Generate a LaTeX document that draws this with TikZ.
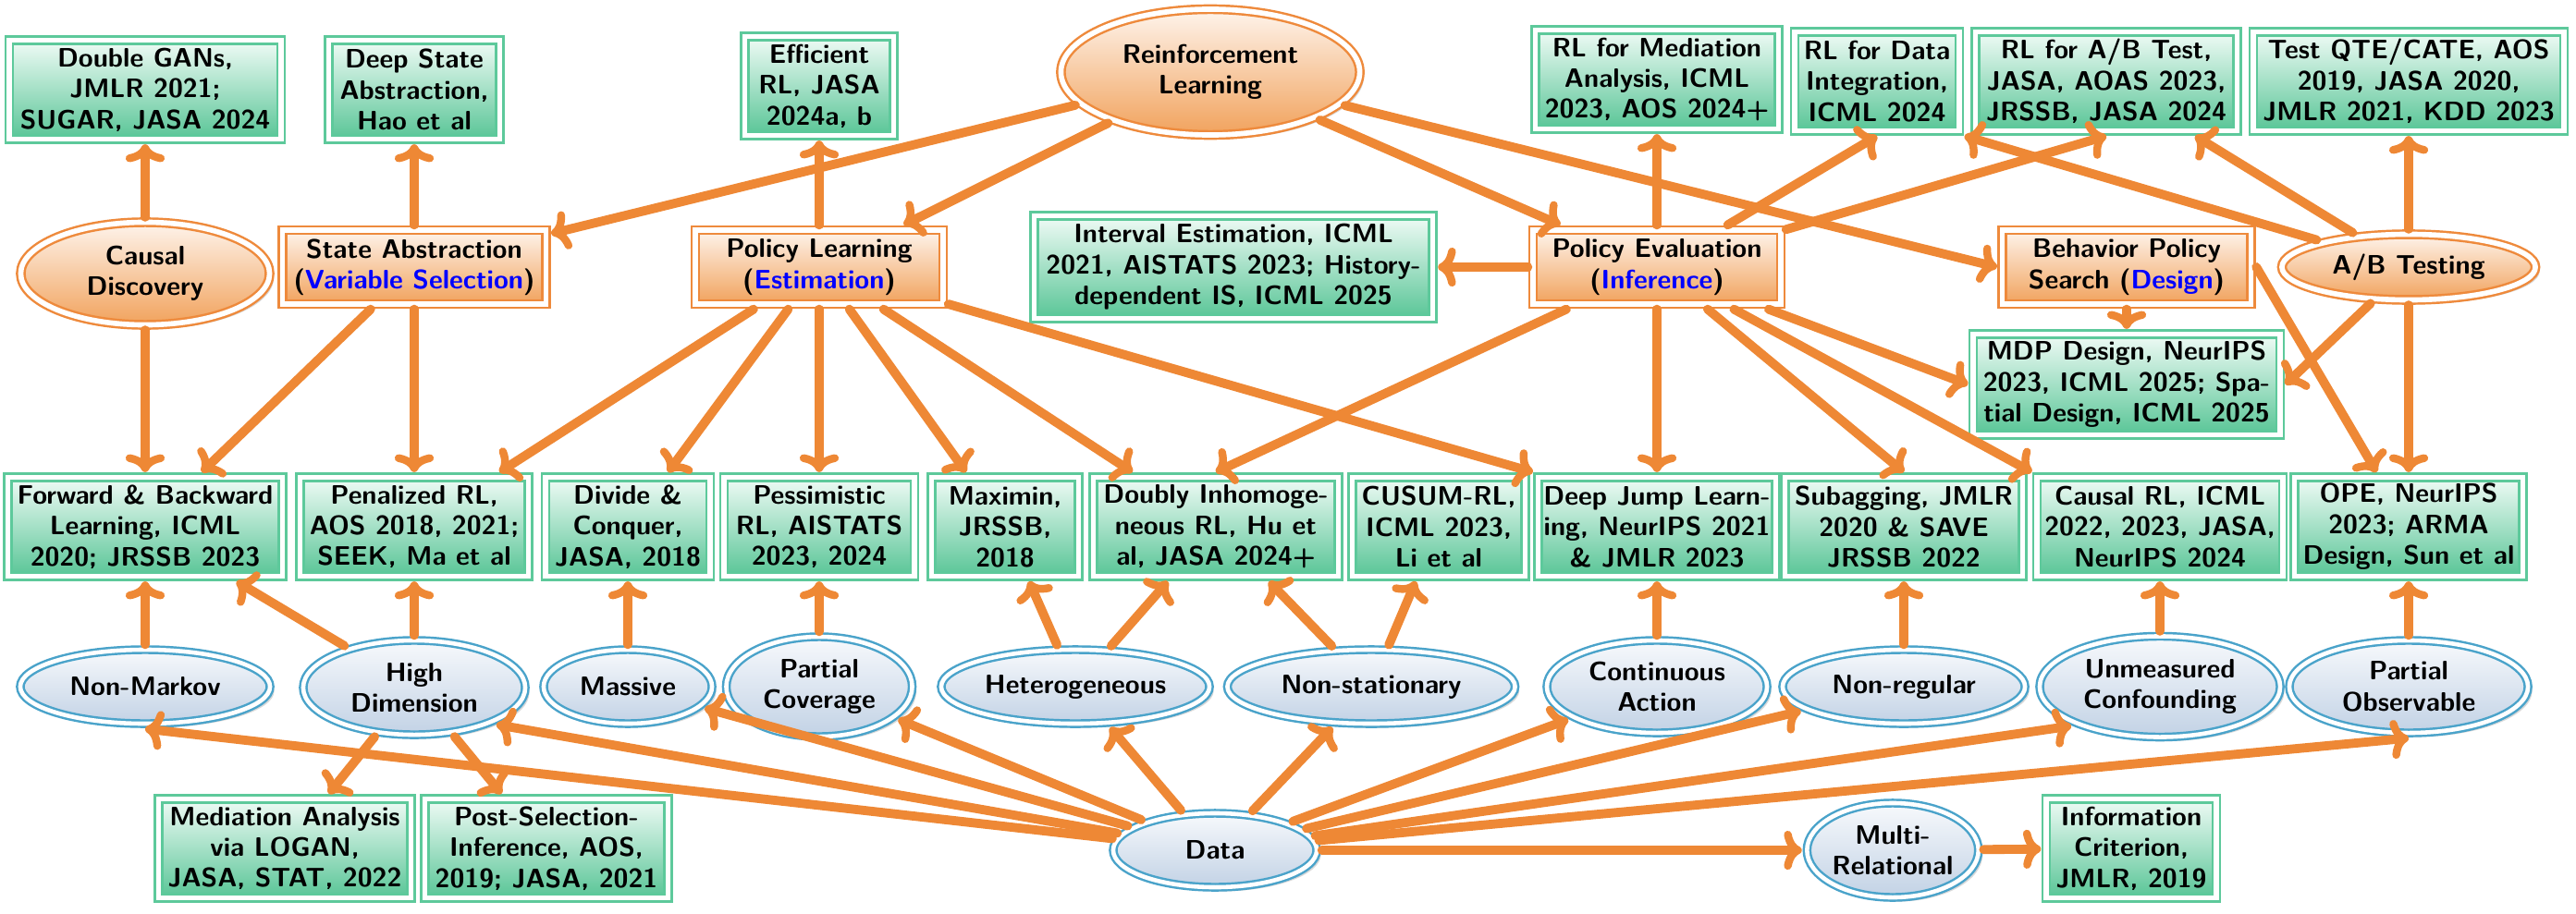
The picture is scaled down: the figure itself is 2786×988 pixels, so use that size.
\documentclass[tikz,border=0pt]{standalone}
\usepackage{xcolor}
\usetikzlibrary{shapes.geometric,arrows.meta,shadows}

\definecolor{arrorange}{HTML}{EE8835}
\definecolor{gline}{HTML}{5DC99B}
\definecolor{gtop}{HTML}{F0FBF6}
\definecolor{gbot}{HTML}{58C596}
\definecolor{oline}{HTML}{EE8A3C}
\definecolor{otop}{HTML}{FEF4EC}
\definecolor{obot}{HTML}{F1A25C}
\definecolor{bline}{HTML}{4AA3CA}
\definecolor{btop}{HTML}{F7F9FC}
\definecolor{bbot}{HTML}{C2D2E5}

\tikzset{
  every node/.style={font=\sffamily\bfseries\fontsize{8.2}{9.5}\selectfont,
    align=center, inner sep=0pt, outer sep=1.6pt},
  shd/.style={drop shadow={opacity=0.3, shadow xshift=1.3pt, shadow yshift=-1.3pt}},
  gbox/.style={rectangle, draw=gline, double=white, double distance=1.6pt,
    line width=0.7pt, top color=gtop, bottom color=gbot, minimum height=1.07cm, shd},
  obox/.style={rectangle, draw=oline, double=white, double distance=1.6pt,
    line width=0.7pt, top color=otop, bottom color=obot, minimum height=0.8cm, shd},
  oell/.style={ellipse, draw=oline, double=white, double distance=1.6pt,
    line width=0.7pt, top color=otop, bottom color=obot, shd},
  bell/.style={ellipse, draw=bline, double=white, double distance=1.3pt,
    line width=0.7pt, top color=btop, bottom color=bbot, shd},
  arr/.style={draw=arrorange, line width=2.8pt, line cap=round,
    -{Computer Modern Rightarrow[length=5.5pt,width=12pt,line width=2.4pt]}}
}

\begin{document}
\begin{tikzpicture}[x=0.01cm,y=-0.01cm]
    \useasboundingbox (0,0) rectangle (2786,988);

    % top row
    \node[gbox, minimum width=2.94cm] (dgan) at (157,97) {Double GANs,\\JMLR 2021;\\SUGAR, JASA 2024};
    \node[gbox, minimum width=1.85cm] (dsa) at (448,97) {Deep State\\Abstraction,\\Hao et al};
    \node[gbox, minimum width=1.61cm] (eff) at (886,93) {Efficient\\RL, JASA\\2024a, b};
    \node[oell, minimum width=3.23cm, minimum height=1.36cm] (rl) at (1309,78) {Reinforcement\\Learning};
    \node[gbox, minimum width=2.63cm] (med) at (1792,86) {RL for Mediation\\Analysis, ICML\\2023, AOS 2024+};
    \node[gbox, minimum width=1.78cm] (dint) at (2030,88) {RL for Data\\Integration,\\ICML 2024};
    \node[gbox, minimum width=2.83cm] (abt) at (2278,88) {RL for A/B Test,\\JASA, AOAS 2023,\\JRSSB, JASA 2024};
    \node[gbox, minimum width=3.36cm] (qte) at (2605,88) {Test QTE/CATE, AOS\\2019, JASA 2020,\\JMLR 2021, KDD 2023};

    % methods
    \node[oell, minimum width=2.69cm, minimum height=1.11cm] (cd) at (157,296) {Causal\\Discovery};
    \node[obox, minimum width=2.85cm] (sa) at (448,289) {State Abstraction\\(\textcolor{blue}{Variable Selection})};
    \node[obox, minimum width=2.68cm] (pl) at (886,289) {Policy Learning\\(\textcolor{blue}{Estimation})};
    \node[gbox, minimum width=4.31cm, minimum height=1.11cm] (ie) at (1334,289) {Interval Estimation, ICML\\2021, AISTATS 2023; History-\\dependent IS, ICML 2025};
    \node[obox, minimum width=2.68cm] (pe) at (1792,289) {Policy Evaluation\\(\textcolor{blue}{Inference})};
    \node[obox, minimum width=2.69cm] (bps) at (2300,289) {Behavior Policy\\Search (\textcolor{blue}{Design})};
    \node[oell, minimum width=2.74cm, minimum height=0.71cm] (ab) at (2605,289) {A/B Testing};
    \node[gbox, minimum width=3.32cm, minimum height=1.09cm] (mdp) at (2300,416) {MDP Design, NeurIPS\\2023, ICML 2025; Spa-\\tial Design, ICML 2025};

    % papers
    \node[gbox, minimum width=2.97cm] (fb) at (157,570) {Forward \& Backward\\Learning, ICML\\2020; JRSSB 2023};
    \node[gbox, minimum width=2.47cm] (pen) at (448,570) {Penalized RL,\\AOS 2018, 2021;\\SEEK, Ma et al};
    \node[gbox, minimum width=1.78cm] (div) at (679,570) {Divide \&\\Conquer,\\JASA, 2018};
    \node[gbox, minimum width=2.06cm] (pes) at (886,570) {Pessimistic\\RL, AISTATS\\2023, 2024};
    \node[gbox, minimum width=1.59cm] (mxm) at (1087,570) {Maximin,\\JRSSB,\\2018};
    \node[gbox, minimum width=2.65cm] (dib) at (1315,570) {Doubly Inhomoge-\\neous RL, Hu et\\al, JASA 2024+};
    \node[gbox, minimum width=1.87cm] (cus) at (1556,570) {CUSUM-RL,\\ICML 2023,\\Li et al};
    \node[gbox, minimum width=2.57cm] (dj) at (1792,570) {Deep Jump Learn-\\ing, NeurIPS 2021\\\& JMLR 2023};
    \node[gbox, minimum width=2.57cm] (sub) at (2059,570) {Subagging, JMLR\\2020 \& SAVE\\JRSSB 2022};
    \node[gbox, minimum width=2.66cm] (crl) at (2336,570) {Causal RL, ICML\\2022, 2023, JASA,\\NeurIPS 2024};
    \node[gbox, minimum width=2.47cm] (ope) at (2605,570) {OPE, NeurIPS\\2023; ARMA\\Design, Sun et al};

    % data features
    \node[bell, minimum width=2.7cm, minimum height=0.8cm] (nm) at (157,743) {Non-Markov};
    \node[bell, minimum width=2.4cm, minimum height=1.02cm] (hd) at (448,744) {High\\Dimension};
    \node[bell, minimum width=1.82cm, minimum height=0.8cm] (mas) at (679,743) {Massive};
    \node[bell, minimum width=2.01cm, minimum height=1.08cm] (pc) at (886,743) {Partial\\Coverage};
    \node[bell, minimum width=2.9cm, minimum height=0.8cm] (het) at (1163,743) {Heterogeneous};
    \node[bell, minimum width=3.11cm, minimum height=0.8cm] (ns) at (1483,743) {Non-stationary};
    \node[bell, minimum width=2.38cm, minimum height=1cm] (ca) at (1792,743) {Continuous\\Action};
    \node[bell, minimum width=2.62cm, minimum height=0.8cm] (nr) at (2059,743) {Non-regular};
    \node[bell, minimum width=2.6cm, minimum height=1.09cm] (uc) at (2336,743) {Unmeasured\\Confounding};
    \node[bell, minimum width=2.58cm, minimum height=1cm] (po) at (2605,743) {Partial\\Observable};

    % bottom row
    \node[gbox, minimum width=2.73cm] (logan) at (308,918) {Mediation Analysis\\via LOGAN,\\JASA, STAT, 2022};
    \node[gbox, minimum width=2.63cm] (psi) at (591,918) {Post-Selection-\\Inference, AOS,\\2019; JASA, 2021};
    \node[bell, minimum width=2.2cm, minimum height=0.8cm] (data) at (1314,920) {Data};
    \node[bell, minimum width=1.8cm, minimum height=1.02cm] (mr) at (2047,920) {Multi-\\Relational};
    \node[gbox, minimum width=1.84cm] (ic) at (2305,918) {Information\\Criterion,\\JMLR, 2019};

    % reinforcement learning
    \draw[arr] (rl) -- (sa);
    \draw[arr] (rl) -- (pl);
    \draw[arr] (rl) -- (pe);
    \draw[arr] (rl) -- (bps.west);

    \draw[arr] (cd) -- (dgan);
    \draw[arr] (cd) -- (fb);
    \draw[arr] (sa) -- (dsa);
    \draw[arr] (sa) -- (fb);
    \draw[arr] (sa) -- (pen);

    % policy learning
    \draw[arr] (pl) -- (eff);
    \draw[arr] (pl) -- (pen);
    \draw[arr] (pl) -- (div);
    \draw[arr] (pl) -- (pes);
    \draw[arr] (pl) -- (mxm);
    \draw[arr] (pl) -- (dib);
    \draw[arr] (pl) -- (dj.north west);

    % policy evaluation
    \draw[arr] (pe) -- (ie);
    \draw[arr] (pe) -- (med);
    \draw[arr] (pe) -- (dint.south);
    \draw[arr] (pe) -- (abt.south);
    \draw[arr] (pe) -- (dib.north);
    \draw[arr] (pe) -- (dj);
    \draw[arr] (pe) -- (sub.north);
    \draw[arr] (pe) -- (crl.north west);
    \draw[arr] (pe) -- (mdp.west);

    \draw[arr] (bps) -- (mdp);
    \draw[arr] (bps.east) -- (ope);

    % a/b testing
    \draw[arr] (ab) -- (dint.south east);
    \draw[arr] (ab) -- (abt);
    \draw[arr] (ab) -- (qte);
    \draw[arr] (ab) -- (mdp.east);
    \draw[arr] (ab) -- (ope);

    % features to papers
    \draw[arr] (nm) -- (fb);
    \draw[arr] (hd) -- (fb);
    \draw[arr] (hd) -- (pen);
    \draw[arr] (hd) -- (logan);
    \draw[arr] (hd) -- (psi);
    \draw[arr] (mas) -- (div);
    \draw[arr] (pc) -- (pes);
    \draw[arr] (het) -- (mxm);
    \draw[arr] (het) -- (dib);
    \draw[arr] (ns) -- (dib);
    \draw[arr] (ns) -- (cus);
    \draw[arr] (ca) -- (dj);
    \draw[arr] (nr) -- (sub);
    \draw[arr] (uc) -- (crl);
    \draw[arr] (po) -- (ope);

    % data
    \draw[arr] (data) -- (nm.south);
    \draw[arr] (data) -- (hd.south east);
    \draw[arr] (data) -- (mas);
    \draw[arr] (data) -- (pc);
    \draw[arr] (data) -- (het);
    \draw[arr] (data) -- (ns);
    \draw[arr] (data) -- (ca);
    \draw[arr] (data) -- (nr);
    \draw[arr] (data) -- (uc.south west);
    \draw[arr] (data) -- (po.south);
    \draw[arr] (data) -- (mr);
    \draw[arr] (mr) -- (ic);
\end{tikzpicture}
\end{document}
